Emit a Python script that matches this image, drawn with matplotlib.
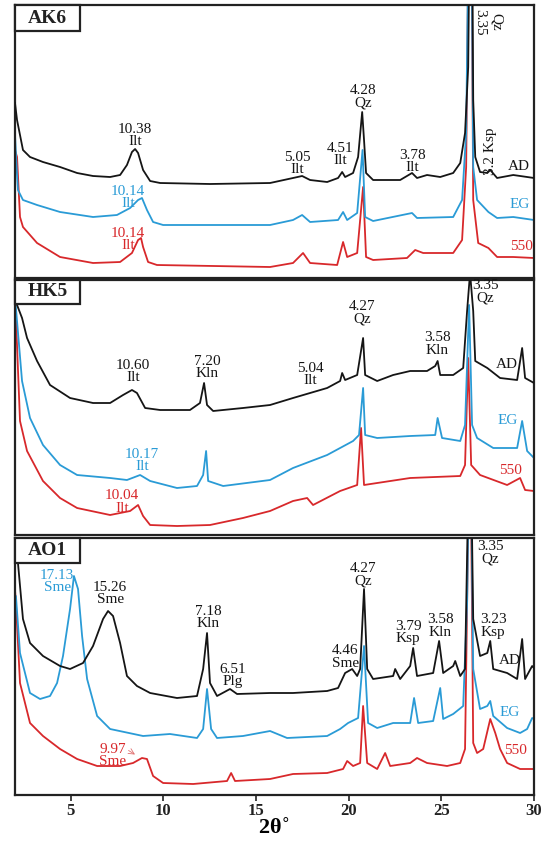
import matplotlib.pyplot as plt
from matplotlib.patches import Rectangle

plt.rcParams['font.family'] = ['Liberation Serif', 'DejaVu Serif']

# ---- data: 2theta (deg) and intensity (a.u.) ----
# AK6
ak6_ad_tt = [2.0, 2.11, 2.43, 2.81, 3.51, 4.43, 5.35, 6.21, 7.13, 7.67, 8.04, 8.31, 8.48, 8.64,
             8.91, 9.29, 9.83, 12.52, 15.76, 17.0, 17.49, 17.92, 18.84, 19.43, 19.65, 19.81,
             20.24, 20.51, 20.73, 20.83, 20.94, 21.32, 22.78, 23.42, 23.69, 24.23, 24.94, 25.64,
             26.02, 26.28, 26.45, 26.55, 26.65, 26.72, 26.83, 27.09, 27.48, 27.64, 28.01, 28.88,
             29.63, 30.0]
ak6_ad_i = [175, 158, 128, 121, 116, 111, 105, 102, 101, 103, 113, 126, 129, 125,
            108, 97, 95, 94, 95, 100, 102, 98, 96, 100, 106, 101,
            105, 121, 166, 138, 105, 98, 98, 105, 100, 103, 101, 105,
            115, 145, 211, 400, 400, 178, 121, 106, 105, 108, 100, 103,
            101, 100]
ak6_eg_tt = [2.0, 2.11, 2.16, 2.43, 3.19, 4.43, 6.21, 7.5, 8.21, 8.64, 8.85, 9.12, 9.45, 9.99,
             15.76, 17.0, 17.49, 17.92, 19.43, 19.7, 19.92, 20.46, 20.75, 20.89, 21.32, 23.42,
             23.69, 25.64, 26.12, 26.34, 26.5, 26.61, 26.72, 26.93, 27.54, 28.01, 28.88, 30.0]
ak6_eg_i = [143, 103, 88, 78, 73, 66, 61, 63, 70, 78, 80, 68, 56, 53,
            53, 58, 63, 56, 58, 66, 58, 65, 128, 61, 57, 65,
            60, 61, 78, 145, 400, 400, 111, 78, 66, 60, 61, 58]
ak6_550_tt = [2.0, 2.11, 2.27, 2.43, 3.19, 4.43, 6.21, 7.67, 8.31, 8.64, 8.8, 8.91, 9.18, 9.66,
              15.76, 17.0, 17.54, 17.92, 19.38, 19.7, 19.92, 20.46, 20.78, 20.94, 21.32, 23.15,
              23.59, 24.02, 25.64, 26.12, 26.34, 26.5, 26.61, 26.72, 26.99, 27.54, 28.01, 28.88,
              30.0]
ak6_550_i = [128, 121, 61, 51, 35, 21, 15, 16, 25, 38, 40, 31, 16, 13,
             11, 15, 25, 15, 13, 36, 21, 25, 91, 21, 18, 20,
             28, 25, 25, 38, 111, 400, 400, 78, 35, 30, 21, 21,
             20]

# HK5
hk5_ad_tt = [2.0, 2.11, 2.38, 2.65, 3.19, 3.89, 4.97, 6.21, 7.13, 7.83, 8.31, 8.58, 9.02, 9.83,
             11.44, 11.98, 12.2, 12.36, 12.69, 14.3, 15.76, 17.0, 17.92, 18.84, 19.54, 19.65,
             19.81, 20.46, 20.78, 20.89, 21.54, 22.4, 23.32, 24.23, 24.67, 24.8, 24.94, 25.64,
             26.18, 26.39, 26.55, 26.72, 26.83, 27.48, 28.17, 29.09, 29.36, 29.52, 30.0]
hk5_ad_i = [240, 230, 217, 197, 174, 150, 137, 132, 132, 140, 145, 142, 127, 125,
            125, 132, 152, 130, 124, 127, 130, 137, 142, 147, 154, 162,
            155, 160, 197, 160, 154, 160, 164, 164, 169, 174, 160, 160,
            167, 224, 262, 224, 174, 167, 157, 155, 187, 157, 152]
hk5_eg_tt = [2.0, 2.05, 2.38, 2.81, 3.51, 4.43, 5.35, 7.13, 8.04, 8.75, 9.29, 10.74, 11.82,
             12.15, 12.31, 12.42, 13.23, 15.76, 17.0, 18.84, 20.24, 20.56, 20.78, 20.89, 21.54,
             23.32, 24.67, 24.8, 25.04, 26.02, 26.28, 26.5, 26.66, 26.93, 27.8, 29.09, 29.36,
             29.63, 30.0]
hk5_eg_i = [235, 227, 154, 117, 90, 70, 60, 57, 55, 60, 54, 47, 49,
            60, 84, 54, 49, 55, 67, 80, 94, 100, 147, 100, 97,
            99, 100, 117, 97, 94, 110, 230, 110, 97, 87, 87, 114,
            84, 77]
hk5_550_tt = [2.0, 2.05, 2.27, 2.65, 3.51, 4.43, 5.35, 7.13, 8.21, 8.64, 8.91, 9.29, 10.74,
              12.52, 14.3, 15.76, 17.0, 17.76, 18.08, 19.54, 20.46, 20.67, 20.83, 21.54, 23.32,
              26.02, 26.28, 26.45, 26.61, 27.09, 28.55, 29.25, 29.52, 30.0]
hk5_550_i = [225, 217, 114, 84, 54, 37, 27, 20, 24, 30, 19, 10, 9,
             10, 17, 24, 34, 37, 30, 44, 50, 107, 50, 52, 57,
             59, 70, 177, 70, 60, 50, 57, 45, 44]

# AO1
ao1_ad_tt = [2.0, 2.16, 2.43, 2.81, 3.51, 4.43, 4.97, 5.67, 6.21, 6.75, 7.02, 7.29, 7.67, 8.04,
             8.58, 9.29, 10.74, 11.82, 12.15, 12.36, 12.52, 12.9, 13.6, 13.98, 15.76, 17.0,
             18.84, 19.43, 19.81, 20.19, 20.46, 20.62, 20.83, 21.0, 21.32, 22.4, 22.51, 22.78,
             23.32, 23.48, 23.69, 24.56, 24.88, 25.1, 25.64, 25.75, 26.02, 26.28, 26.45, 26.55,
             26.72, 27.09, 27.48, 27.64, 27.8, 28.55, 29.09, 29.36, 29.52, 29.9, 30.0]
ao1_ad_i = [250, 232, 176, 152, 139, 129, 126, 132, 149, 176, 184, 179, 152, 119,
            109, 102, 97, 99, 126, 162, 112, 99, 106, 101, 102, 102,
            104, 107, 122, 126, 119, 126, 206, 126, 116, 119, 126, 116,
            129, 147, 119, 122, 154, 122, 129, 134, 119, 126, 300, 400,
            176, 139, 142, 154, 126, 122, 116, 156, 116, 129, 127]
ao1_eg_tt = [2.0, 2.05, 2.27, 2.81, 3.35, 3.89, 4.27, 4.59, 4.97, 5.18, 5.4, 5.62, 5.89, 6.43,
             7.13, 8.91, 10.36, 11.82, 12.15, 12.36, 12.58, 12.9, 14.3, 15.76, 16.68, 18.84,
             19.54, 19.97, 20.51, 20.83, 21.05, 21.54, 22.4, 23.32, 23.53, 23.75, 24.56, 24.94,
             25.1, 25.64, 26.18, 26.39, 26.55, 26.72, 27.09, 27.48, 27.64, 27.8, 28.55, 29.25,
             29.63, 29.9, 30.0]
ao1_eg_i = [199, 199, 142, 102, 96, 99, 112, 139, 186, 219, 206, 159, 116, 79,
            66, 59, 61, 57, 66, 106, 66, 57, 59, 64, 57, 59,
            66, 72, 77, 149, 72, 67, 72, 72, 97, 72, 74, 107,
            76, 81, 89, 192, 400, 126, 86, 89, 94, 79, 67, 62,
            66, 77, 76]
ao1_550_tt = [2.0, 2.05, 2.27, 2.81, 3.51, 4.43, 5.35, 6.43, 7.67, 8.37, 8.85, 9.12, 9.45, 9.99,
              11.61, 13.44, 13.66, 13.87, 15.76, 17.0, 18.84, 19.7, 19.92, 20.24, 20.62, 20.78,
              21.0, 21.54, 21.97, 22.24, 23.32, 23.69, 24.23, 25.31, 26.02, 26.28, 26.55, 26.72,
              26.93, 27.26, 27.64, 27.91, 28.17, 28.55, 29.25, 30.0]
ao1_550_i = [205, 192, 112, 72, 59, 46, 36, 29, 29, 32, 37, 36, 19, 12,
             11, 14, 22, 14, 16, 21, 22, 26, 34, 29, 32, 89,
             32, 26, 42, 29, 32, 37, 32, 29, 32, 46, 400, 52,
             42, 46, 76, 62, 46, 32, 26, 26]

tick_vals = [5, 10, 15, 20, 25, 30]

BLACK = '#151515'
BLUE = '#2a9bd6'
RED = '#d8282b'

W, H = 546, 843
fig = plt.figure(figsize=(W / 100, H / 100), dpi=100)


def add_panel(top, bottom, height):
    ax = fig.add_axes([15 / W, (H - bottom) / H, 519 / W, (bottom - top) / H])
    ax.set_xlim(2, 30)
    ax.set_ylim(0, height)
    ax.set_yticks([])
    for s in ax.spines.values():
        s.set_linewidth(1.6)
        s.set_color('#222222')
    return ax


def panel_box(ax, name, frac_h):
    ax.add_patch(Rectangle((0, 1 - frac_h), 0.125, frac_h, transform=ax.transAxes,
                           fc='white', ec='#222222', lw=1.6, zorder=5, clip_on=False))
    ax.text(0.0625, 1 - frac_h / 2, name, transform=ax.transAxes, ha='center', va='center',
            fontsize=14, fontweight='bold', color='#222222', zorder=6)


def lab(ax, x, y, s, c, **kw):
    ax.text(x, y, s, ha='center', va='center', fontsize=11, color=c,
            linespacing=0.95, zorder=4, **kw)


def traces(ax, ad, eg, t550):
    ax.plot(*t550, color=RED, lw=1.3, zorder=2)
    ax.plot(*eg, color=BLUE, lw=1.3, zorder=2)
    ax.plot(*ad, color=BLACK, lw=1.3, zorder=3)


# --- panel AK6 ---
ax1 = add_panel(5, 278, 273)
ax1.set_xticks([])
traces(ax1, (ak6_ad_tt, ak6_ad_i), (ak6_eg_tt, ak6_eg_i), (ak6_550_tt, ak6_550_i))
panel_box(ax1, 'AK6', 26 / 273)
lab(ax1, 8.48, 142.5, '10.38\nIlt', BLACK)
lab(ax1, 8.10, 80.5, '10.14\nIlt', BLUE)
lab(ax1, 8.10, 38.5, '10.14\nIlt', RED)
lab(ax1, 17.22, 114.5, '5.05\nIlt', BLACK)
lab(ax1, 19.54, 123.5, '4.51\nIlt', BLACK)
lab(ax1, 20.78, 181, '4.28\nQz', BLACK)
lab(ax1, 23.42, 116.5, '3.78\nIlt', BLACK)
lab(ax1, 27.09, 256, '3.35', BLACK, rotation=-90)
lab(ax1, 27.96, 256, 'Qz', BLACK, rotation=-90)
lab(ax1, 27.64, 127, '3.2 Ksp', BLACK, rotation=90)
lab(ax1, 29.2, 111, 'AD', BLACK)
lab(ax1, 29.25, 73, 'EG', BLUE)
lab(ax1, 29.3, 31, '550', RED)

# --- panel HK5 ---
ax2 = add_panel(280, 535, 255)
ax2.set_xticks([])
traces(ax2, (hk5_ad_tt, hk5_ad_i), (hk5_eg_tt, hk5_eg_i), (hk5_550_tt, hk5_550_i))
panel_box(ax2, 'HK5', 24 / 255)
lab(ax2, 8.37, 163.5, '10.60\nIlt', BLACK)
lab(ax2, 12.36, 167.5, '7.20\nKln', BLACK)
lab(ax2, 8.85, 74.5, '10.17\nIlt', BLUE)
lab(ax2, 7.77, 33, '10.04\nIlt', RED)
lab(ax2, 17.92, 160.5, '5.04\nIlt', BLACK)
lab(ax2, 20.73, 222, '4.27\nQz', BLACK)
lab(ax2, 24.77, 191, '3.58\nKln', BLACK)
lab(ax2, 27.36, 243.5, '3.35\nQz', BLACK)
lab(ax2, 28.55, 170, 'AD', BLACK)
lab(ax2, 28.6, 115, 'EG', BLUE)
lab(ax2, 28.71, 65, '550', RED)

# --- panel AO1 ---
ax3 = add_panel(538, 795, 257)
traces(ax3, (ao1_ad_tt, ao1_ad_i), (ao1_eg_tt, ao1_eg_i), (ao1_550_tt, ao1_550_i))
panel_box(ax3, 'AO1', 25 / 257)
lab(ax3, 4.27, 213.5, '17.13\nSme', BLUE)
lab(ax3, 7.13, 201.5, '15.26\nSme', BLACK)
lab(ax3, 12.42, 177.5, '7.18\nKln', BLACK)
lab(ax3, 13.76, 119.5, '6.51\nPlg', BLACK)
lab(ax3, 7.29, 39.5, '9.97\nSme', RED)
ax3.annotate('', xy=(8.6, 39), xytext=(8.0, 46),
             arrowprops=dict(arrowstyle='->', color='#e07070', lw=0.6))
lab(ax3, 20.78, 220, '4.27\nQz', BLACK)
lab(ax3, 19.81, 138, '4.46\nSme', BLACK)
lab(ax3, 23.21, 162.5, '3.79\nKsp', BLACK)
lab(ax3, 24.94, 169, '3.58\nKln', BLACK)
lab(ax3, 27.64, 242.5, '3.35\nQz', BLACK)
lab(ax3, 27.80, 169, '3.23\nKsp', BLACK)
lab(ax3, 28.71, 134, 'AD', BLACK)
lab(ax3, 28.71, 82, 'EG', BLUE)
lab(ax3, 28.98, 44, '550', RED)

ax3.set_xticks(tick_vals)
ax3.set_xticklabels([str(v) for v in tick_vals], fontsize=12, fontweight='bold')
ax3.tick_params(axis='x', direction='out', length=4, width=1.2, pad=2, colors='#222222')
ax3.set_xlabel('2θ$^{\\circ}$', fontsize=16, fontweight='bold', labelpad=-1)

fig.savefig('out.png', dpi=100)
